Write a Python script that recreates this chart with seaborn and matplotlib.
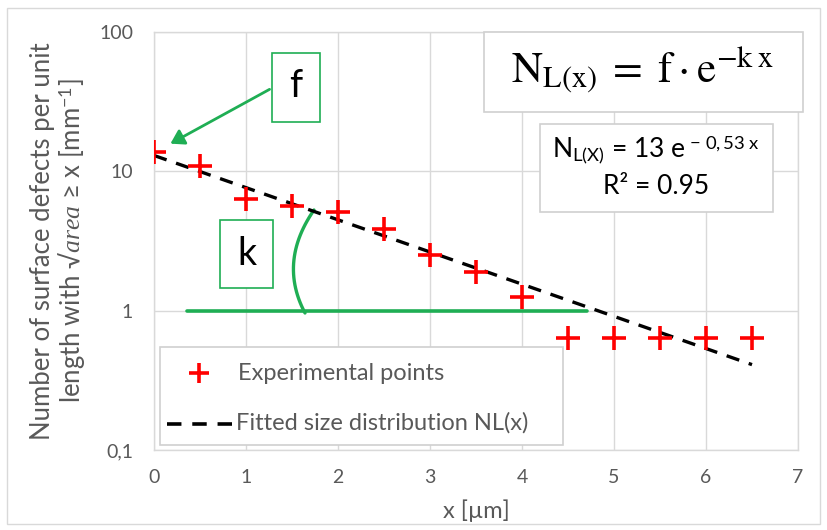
import matplotlib
matplotlib.use("Agg")
import matplotlib.pyplot as plt
import seaborn as sns
import pandas as pd
import numpy as np
from matplotlib.patches import Rectangle, FancyArrowPatch
from matplotlib.lines import Line2D

# ---- data ----
exp_x = [0, 0.5, 1, 1.5, 2, 2.5, 3, 3.5, 4, 4.5, 5, 5.5, 6, 6.5]
exp_y = [13.8, 10.9, 6.3, 5.6, 5.1, 3.85, 2.5, 1.9, 1.25, 0.64, 0.64, 0.64, 0.64, 0.64]
fit_x = [0, 6.5]
fit_y = [13.0, 0.41]
x_ticks = [0, 1, 2, 3, 4, 5, 6, 7]
y_ticks = [0.1, 1, 10, 100]
y_tick_labels = ["0,1", "1", "10", "100"]

sns.set_theme(style="white")
plt.rcParams['font.family'] = ['Lato', 'DejaVu Sans']
plt.rcParams['mathtext.fontset'] = 'custom'
plt.rcParams['mathtext.rm'] = 'Lato'
plt.rcParams['mathtext.it'] = 'Liberation Serif:italic'

GRAY = "#595959"
GRID = "#d9d9d9"
GREEN = "#1fae54"

W, H = 827, 530
L, R, T, B = 154, 798, 32, 450

fig = plt.figure(figsize=(8.27, 5.30), dpi=100)
ax = fig.add_axes([L/W, 1-B/H, (R-L)/W, (B-T)/H])

df_exp = pd.DataFrame({"x": exp_x, "y": exp_y})
df_fit = pd.DataFrame({"x": fit_x, "y": fit_y})

sns.lineplot(data=df_fit, x="x", y="y", ax=ax, color="black", lw=2.4,
             linestyle=(0, (4, 3)), zorder=3)
sns.scatterplot(data=df_exp, x="x", y="y", ax=ax, marker="+", color="red",
                s=300, linewidth=2.6, zorder=4)

ax.set_yscale("log")
ax.set_xlim(0, 7)
ax.set_ylim(0.1, 100)
ax.set_xticks(x_ticks)
ax.set_yticks(y_ticks)
ax.set_yticklabels(y_tick_labels)
ax.minorticks_off()
ax.grid(True, color=GRID, lw=1)
ax.set_axisbelow(True)
for s in ax.spines.values():
    s.set_color(GRID)
    s.set_linewidth(1)
ax.tick_params(axis="both", colors=GRAY, labelsize=14, length=0)
ax.tick_params(axis="x", pad=14)
ax.tick_params(axis="y", pad=15)
ax.set_xlabel("x [µm]", color=GRAY, fontsize=17, labelpad=9)
ax.set_ylabel("Number of surface defects per unit\nlength with √$area$ ≥ x [mm$^{-1}$]",
              color=GRAY, fontsize=18.5, labelpad=8, linespacing=1.05)

# green annotations (k angle)
ax.plot([0.36, 4.71], [1, 1], color=GREEN, lw=2.6, zorder=2)
t = np.linspace(0, 1, 30)
ax_px = lambda px: (px - L) / (R - L) * 7
ay_px = lambda py: 10 ** (2 - (py - T) / ((B - T) / 3))
bx = (1-t)**2*305 + 2*(1-t)*t*278 + t**2*314
by = (1-t)**2*313 + 2*(1-t)*t*262 + t**2*210
ax.plot([ax_px(v) for v in bx], [ay_px(v) for v in by], color=GREEN, lw=2.4, zorder=2)

# boxes in figure pixel coordinates
def fig_box(x0, y0, x1, y1, ec, lw=1.2):
    r = Rectangle((x0/W, 1-y1/H), (x1-x0)/W, (y1-y0)/H, transform=fig.transFigure,
                  facecolor="white", edgecolor=ec, lw=lw, zorder=5)
    fig.patches.append(r)

fig_box(272, 53, 320, 122, GREEN)
fig.text(296/W, 1-86/H, "f", ha="center", va="center", fontsize=27, color="black", zorder=7)
fig_box(220, 220, 273, 288, GREEN)
fig.text(246.5/W, 1-254/H, "k", ha="center", va="center", fontsize=27, color="black", zorder=7)

arr = FancyArrowPatch((272/W, 1-88/H), (168/W, 1-145/H), transform=fig.transFigure,
                      arrowstyle="-|>,head_length=8,head_width=5", color=GREEN, lw=2, zorder=6)
fig.patches.append(arr)

fig_box(484, 32, 803, 112, "#d0d0d0")
fig.text(643/W, 1-70/H, r"$\mathrm{N}_{\mathrm{L(x)}}\;=\;\mathrm{f} \cdot \mathrm{e}^{-\mathrm{k\;x}}$",
         ha="center", va="center", fontsize=31, color="black", math_fontfamily="stix", zorder=7)
fig_box(540, 124, 773, 212, "#d0d0d0")
fig.text(656/W, 1-150/H, r"N$_{\mathrm{L(X)}}$ = 13 e$^{\mathrm{\,-\,0,53\ x}}$",
         ha="center", va="center", fontsize=19, color="black", zorder=7)
fig.text(656/W, 1-187/H, "R² = 0.95", ha="center", va="center", fontsize=19, color="black",
         zorder=7)

# legend
fig_box(160, 347, 563, 445, "#d0d0d0")
fig.add_artist(Line2D([199/W], [1-373/H], linestyle="none", marker="+", color="red",
                      markersize=14, markeredgewidth=2.6, transform=fig.transFigure, zorder=8))
fig.add_artist(Line2D([167/W, 232/W], [1-424/H, 1-424/H], color="black", lw=2.6,
                      linestyle=(0, (4, 3)), transform=fig.transFigure, zorder=8))
fig.text(238/W, 1-373/H, "Experimental points", ha="left", va="center", fontsize=17,
         color=GRAY, zorder=8)
fig.text(236/W, 1-423/H, "Fitted size distribution NL(x)", ha="left", va="center",
         fontsize=17, color=GRAY, zorder=8)

# outer border
fig.patches.append(Rectangle((7/W, 1-524/H), 813/W, 516/H, transform=fig.transFigure,
                             facecolor="none", edgecolor="#d9d9d9", lw=1, zorder=0))

fig.savefig("out.png", dpi=100)
